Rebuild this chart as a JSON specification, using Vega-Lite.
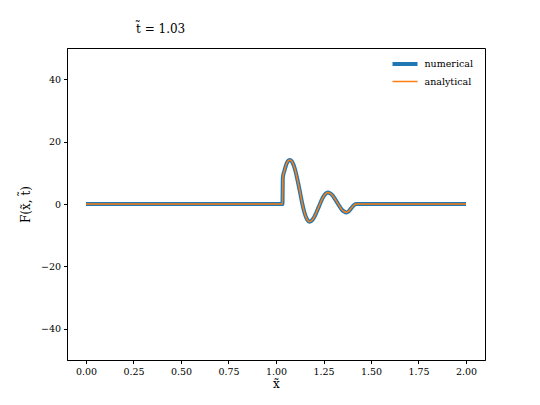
{
  "$schema": "https://vega.github.io/schema/vega-lite/v6.json",
  "width": 418,
  "height": 312,
  "autosize": {"type": "none"},
  "padding": {"left": 67, "top": 48, "right": 55, "bottom": 45},
  "background": "white",
  "title": {"text": "t̃ = 1.03", "anchor": "start", "frame": "group", "dx": 69, "offset": 12, "font": "DejaVu Serif", "fontSize": 12, "fontWeight": "normal", "color": "black"},
  "config": {
    "view": {"stroke": "black", "strokeWidth": 1},
    "axis": {"grid": false, "domainColor": "black", "tickColor": "black", "tickSize": 3.5, "labelColor": "black", "labelFont": "DejaVu Serif", "labelFontSize": 9.5, "titleFont": "DejaVu Serif", "titleFontSize": 12, "titleFontWeight": "normal", "titleColor": "black", "labelPadding": 3},
    "legend": {"labelFont": "DejaVu Serif", "labelFontSize": 9.5, "labelColor": "black"}
  },
  "data": {"values": [
    {"x": 0.0, "numerical": 0, "analytical": 0},
    {"x": 1.034, "numerical": 0, "analytical": 0},
    {"x": 1.036, "numerical": 8.5, "analytical": 8.5},
    {"x": 1.045, "numerical": 10.8, "analytical": 10.8},
    {"x": 1.055, "numerical": 12.8, "analytical": 12.8},
    {"x": 1.065, "numerical": 13.9, "analytical": 13.9},
    {"x": 1.074, "numerical": 14.1, "analytical": 14.1},
    {"x": 1.085, "numerical": 13.5, "analytical": 13.5},
    {"x": 1.0995, "numerical": 11.2, "analytical": 11.2},
    {"x": 1.112, "numerical": 8.0, "analytical": 8.0},
    {"x": 1.125, "numerical": 4.2, "analytical": 4.2},
    {"x": 1.138, "numerical": 0.2, "analytical": 0.2},
    {"x": 1.15, "numerical": -2.8, "analytical": -2.8},
    {"x": 1.163, "numerical": -4.9, "analytical": -4.9},
    {"x": 1.176, "numerical": -5.7, "analytical": -5.7},
    {"x": 1.188, "numerical": -5.3, "analytical": -5.3},
    {"x": 1.2, "numerical": -4.3, "analytical": -4.3},
    {"x": 1.212, "numerical": -2.8, "analytical": -2.8},
    {"x": 1.2245, "numerical": -1.0, "analytical": -1.0},
    {"x": 1.237, "numerical": 0.8, "analytical": 0.8},
    {"x": 1.249, "numerical": 2.3, "analytical": 2.3},
    {"x": 1.261, "numerical": 3.3, "analytical": 3.3},
    {"x": 1.273, "numerical": 3.7, "analytical": 3.7},
    {"x": 1.285, "numerical": 3.4, "analytical": 3.4},
    {"x": 1.297, "numerical": 2.8, "analytical": 2.8},
    {"x": 1.309, "numerical": 1.7, "analytical": 1.7},
    {"x": 1.3215, "numerical": 0.5, "analytical": 0.5},
    {"x": 1.334, "numerical": -0.7, "analytical": -0.7},
    {"x": 1.346, "numerical": -1.8, "analytical": -1.8},
    {"x": 1.358, "numerical": -2.4, "analytical": -2.4},
    {"x": 1.37, "numerical": -2.7, "analytical": -2.7},
    {"x": 1.383, "numerical": -2.3, "analytical": -2.3},
    {"x": 1.395, "numerical": -1.4, "analytical": -1.4},
    {"x": 1.408, "numerical": -0.5, "analytical": -0.5},
    {"x": 1.42, "numerical": 0, "analytical": 0},
    {"x": 2.0, "numerical": 0, "analytical": 0}
  ]},
  "transform": [{"fold": ["numerical", "analytical"], "as": ["series", "F"]}],
  "mark": {"type": "line", "interpolate": "monotone", "strokeCap": "butt", "strokeJoin": "round"},
  "encoding": {
    "x": {"field": "x", "type": "quantitative", "scale": {"domain": [-0.1, 2.1], "nice": false, "zero": false},
      "axis": {"values": [0, 0.25, 0.5, 0.75, 1.0, 1.25, 1.5, 1.75, 2.0], "format": ".2f", "title": "x̃", "titlePadding": 2, "labelFlush": false}},
    "y": {"field": "F", "type": "quantitative", "scale": {"domain": [-50, 50], "nice": false, "zero": false},
      "axis": {"values": [-40, -20, 0, 20, 40], "title": "F(x̃, t̃)", "titlePadding": 8, "labelFlush": false}},
    "color": {"field": "series", "type": "nominal", "scale": {"domain": ["numerical", "analytical"], "range": ["#1f77b4", "#ff7f0e"]},
      "legend": {"title": null, "orient": "none", "legendX": 331, "legendY": 9, "symbolType": "M-2.5,0H2.5", "symbolSize": 100, "symbolFillColor": "transparent", "rowPadding": 3.5, "labelOffset": 12.5}},
    "strokeWidth": {"field": "series", "type": "nominal", "scale": {"domain": ["numerical", "analytical"], "range": [4, 1.5]},
      "legend": {"title": null, "orient": "none", "legendX": 331, "legendY": 9, "symbolType": "M-2.5,0H2.5", "symbolSize": 100, "symbolFillColor": "transparent", "rowPadding": 3.5, "labelOffset": 12.5}}
  }
}
